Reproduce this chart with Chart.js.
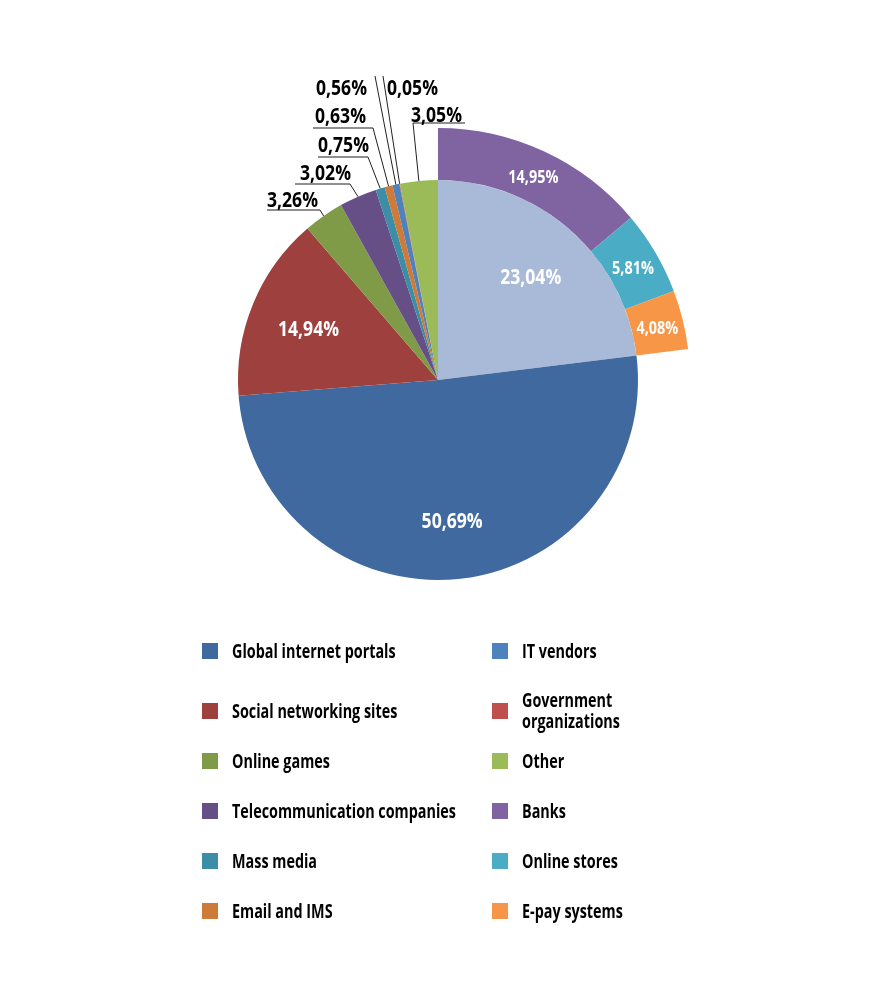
<!DOCTYPE html>
<html>
<head>
<meta charset="utf-8">
<script src="https://cdn.jsdelivr.net/npm/chart.js@4.4.1/dist/chart.umd.min.js"></script>
<style>
    body { margin: 0; background: #fff; width: 882px; height: 1001px; position: relative; overflow: hidden;
           font-family: "Open Sans", "Liberation Sans", sans-serif; }
    #pie { position: absolute; left: 0; top: 0; }
    .lg { position: absolute; height: 44px; display: flex; align-items: center;
          font-weight: bold; font-size: 19px; line-height: 21px; color: #000; white-space: nowrap; }
    .lg .sw { width: 16px; height: 16px; margin-right: 14px; flex: none; }
    .lg .tx { display: inline-block; transform-origin: left center; }
</style>
</head>
<body>
<canvas id="pie" width="882" height="640"></canvas>
<div id="legend"></div>
<script>
// Inner pie, clockwise from 12 o'clock
const categories = ['Financial', 'Global internet portals', 'Social networking sites', 'Online games',
    'Telecommunication companies', 'Mass media', 'Email and IMS', 'IT vendors',
    'Government organizations', 'Other'];
const shares = [23.04, 50.69, 14.94, 3.26, 3.02, 0.75, 0.63, 0.56, 0.05, 3.05];

// Breakdown of the financial slice, drawn as an outer ring
const financeCategories = ['Banks', 'Online stores', 'E-pay systems'];
const financeShares = [14.95, 5.81, 4.08];

// Legend, two columns, read row by row
const legendLeft = ['Global internet portals', 'Social networking sites', 'Online games',
    'Telecommunication companies', 'Mass media', 'Email and IMS'];
const legendRight = ['IT vendors', 'Government organizations', 'Other', 'Banks', 'Online stores', 'E-pay systems'];

const colors = {
    'Financial': '#A9B9D8',
    'Global internet portals': '#406A9F',
    'Social networking sites': '#9E413E',
    'Online games': '#7F9B48',
    'Telecommunication companies': '#664F87',
    'Mass media': '#3B8EA5',
    'Email and IMS': '#CF7A36',
    'IT vendors': '#4F81BD',
    'Government organizations': '#C0504D',
    'Other': '#9BBB59',
    'Banks': '#8064A2',
    'Online stores': '#4BACC6',
    'E-pay systems': '#F79646',
};

// callouts for the thin slices: elbow and text anchor relative to the pie centre
const callouts = {
    'Online games':                { elbow: [-118, -170], end: -171, text: [-171, -173], align: 'left' },
    'Telecommunication companies': { elbow: [-88, -196],  end: -143, text: [-138, -200], align: 'left' },
    'Mass media':                  { elbow: [-70, -223],  end: -120, text: [-120, -228], align: 'left' },
    'Email and IMS':               { elbow: [-65, -252],  end: -125, text: [-123, -257], align: 'left' },
    'IT vendors':                  { elbow: [-63, -304],  end: null, text: [-71, -285],  align: 'right' },
    'Government organizations':    { elbow: [-55, -304],  end: null, text: [-51, -285],  align: 'left' },
    'Other':                       { elbow: [-25, -257],  end: 27,   text: [-27, -258],  align: 'left' },
};

const FONT = '"Open Sans", "Liberation Sans", sans-serif';
const fmt = (v) => v.toFixed(2).replace('.', ',') + '%';

// the reference uses a condensed face; squeeze a normal one to the same widths
const measurer = document.createElement('canvas').getContext('2d');
function squeeze(font, sample, targetWidth) {
    measurer.font = font;
    return targetWidth / measurer.measureText(sample).width;
}
const BIG = 'bold 21px ' + FONT;
const RING = 'bold 18px ' + FONT;
const kBig = squeeze(BIG, '0,56%', 51);
const kRing = squeeze(RING, '14,95%', 50);

function condensedText(ctx, text, x, y, k) {
    ctx.save();
    ctx.translate(x, y);
    ctx.scale(k, 1);
    ctx.fillText(text, 0, 0);
    ctx.restore();
}

// the ring spans the same angle as the financial slice
const finTotal = financeShares.reduce((a, b) => a + b, 0);
const ringData = financeShares.map((v) => v / finTotal * shares[0]).concat([100 - shares[0]]);

const sliceLabels = {
    id: 'sliceLabels',
    afterDatasetsDraw(chart) {
        const ctx = chart.ctx;
        ctx.save();

        // ring labels
        ctx.font = RING;
        ctx.fillStyle = '#fff';
        ctx.textAlign = 'center';
        ctx.textBaseline = 'middle';
        chart.getDatasetMeta(0).data.slice(0, financeShares.length).forEach((arc, i) => {
            const p = arc.getProps(['x', 'y', 'startAngle', 'endAngle', 'innerRadius', 'outerRadius']);
            const a = (p.startAngle + p.endAngle) / 2;
            const r = (p.innerRadius + p.outerRadius) / 2;
            condensedText(ctx, fmt(financeShares[i]), p.x + Math.cos(a) * r, p.y + Math.sin(a) * r + 3, kRing);
        });

        // inner slices
        ctx.font = BIG;
        chart.getDatasetMeta(1).data.forEach((arc, i) => {
            const p = arc.getProps(['x', 'y', 'startAngle', 'endAngle', 'innerRadius', 'outerRadius']);
            const a = (p.startAngle + p.endAngle) / 2;
            const c = callouts[categories[i]];
            if (!c) {
                const r = p.outerRadius * 0.7;
                ctx.fillStyle = '#fff';
                ctx.textAlign = 'center';
                ctx.textBaseline = 'middle';
                condensedText(ctx, fmt(shares[i]), p.x + Math.cos(a) * r, p.y + Math.sin(a) * r + 3, kBig);
                return;
            }
            const sx = p.x + Math.cos(a) * p.outerRadius;
            const sy = p.y + Math.sin(a) * p.outerRadius;
            ctx.strokeStyle = '#231F20';
            ctx.lineWidth = 1;
            ctx.beginPath();
            ctx.moveTo(sx, sy);
            ctx.lineTo(p.x + c.elbow[0], p.y + c.elbow[1]);
            if (c.end !== null) ctx.lineTo(p.x + c.end, p.y + c.elbow[1]);
            ctx.stroke();
            ctx.fillStyle = '#000';
            ctx.textAlign = c.align;
            ctx.textBaseline = 'alphabetic';
            condensedText(ctx, fmt(shares[i]), p.x + c.text[0], p.y + c.text[1], kBig);
        });
        ctx.restore();
    },
};

new Chart(document.getElementById('pie').getContext('2d'), {
    type: 'doughnut',
    data: {
        labels: financeCategories.concat(['']),
        datasets: [
            {
                data: ringData,
                backgroundColor: financeCategories.map((k) => colors[k]).concat(['rgba(0,0,0,0)']),
                borderWidth: 0,
                weight: 52,
            },
            {
                data: shares,
                backgroundColor: categories.map((k) => colors[k]),
                borderWidth: 0,
                weight: 200,
            },
        ],
    },
    options: {
        responsive: false,
        animation: false,
        cutout: 0,
        hoverOffset: 0,
        layout: { padding: { top: 128, bottom: 8, left: 186, right: 192 } },
        plugins: { legend: { display: false }, tooltip: { enabled: false } },
    },
    plugins: [sliceLabels],
});

// legend
const kLegend = squeeze('bold 19px ' + FONT, 'Telecommunication companies', 224);
const rowsY = [651, 711, 761, 811, 861, 911];
const legendEl = document.getElementById('legend');
[[legendLeft, 202], [legendRight, 492]].forEach(([names, x]) => {
    names.forEach((name, i) => {
        const item = document.createElement('div');
        item.className = 'lg';
        item.style.left = x + 'px';
        item.style.top = (rowsY[i] - 22) + 'px';
        const sw = document.createElement('span');
        sw.className = 'sw';
        sw.style.background = colors[name];
        const txt = document.createElement('span');
        txt.className = 'tx';
        txt.style.transform = 'scaleX(' + kLegend + ')';
        txt.innerHTML = name === 'Government organizations' ? 'Government<br>organizations' : name;
        item.appendChild(sw);
        item.appendChild(txt);
        legendEl.appendChild(item);
    });
});
</script>
</body>
</html>
